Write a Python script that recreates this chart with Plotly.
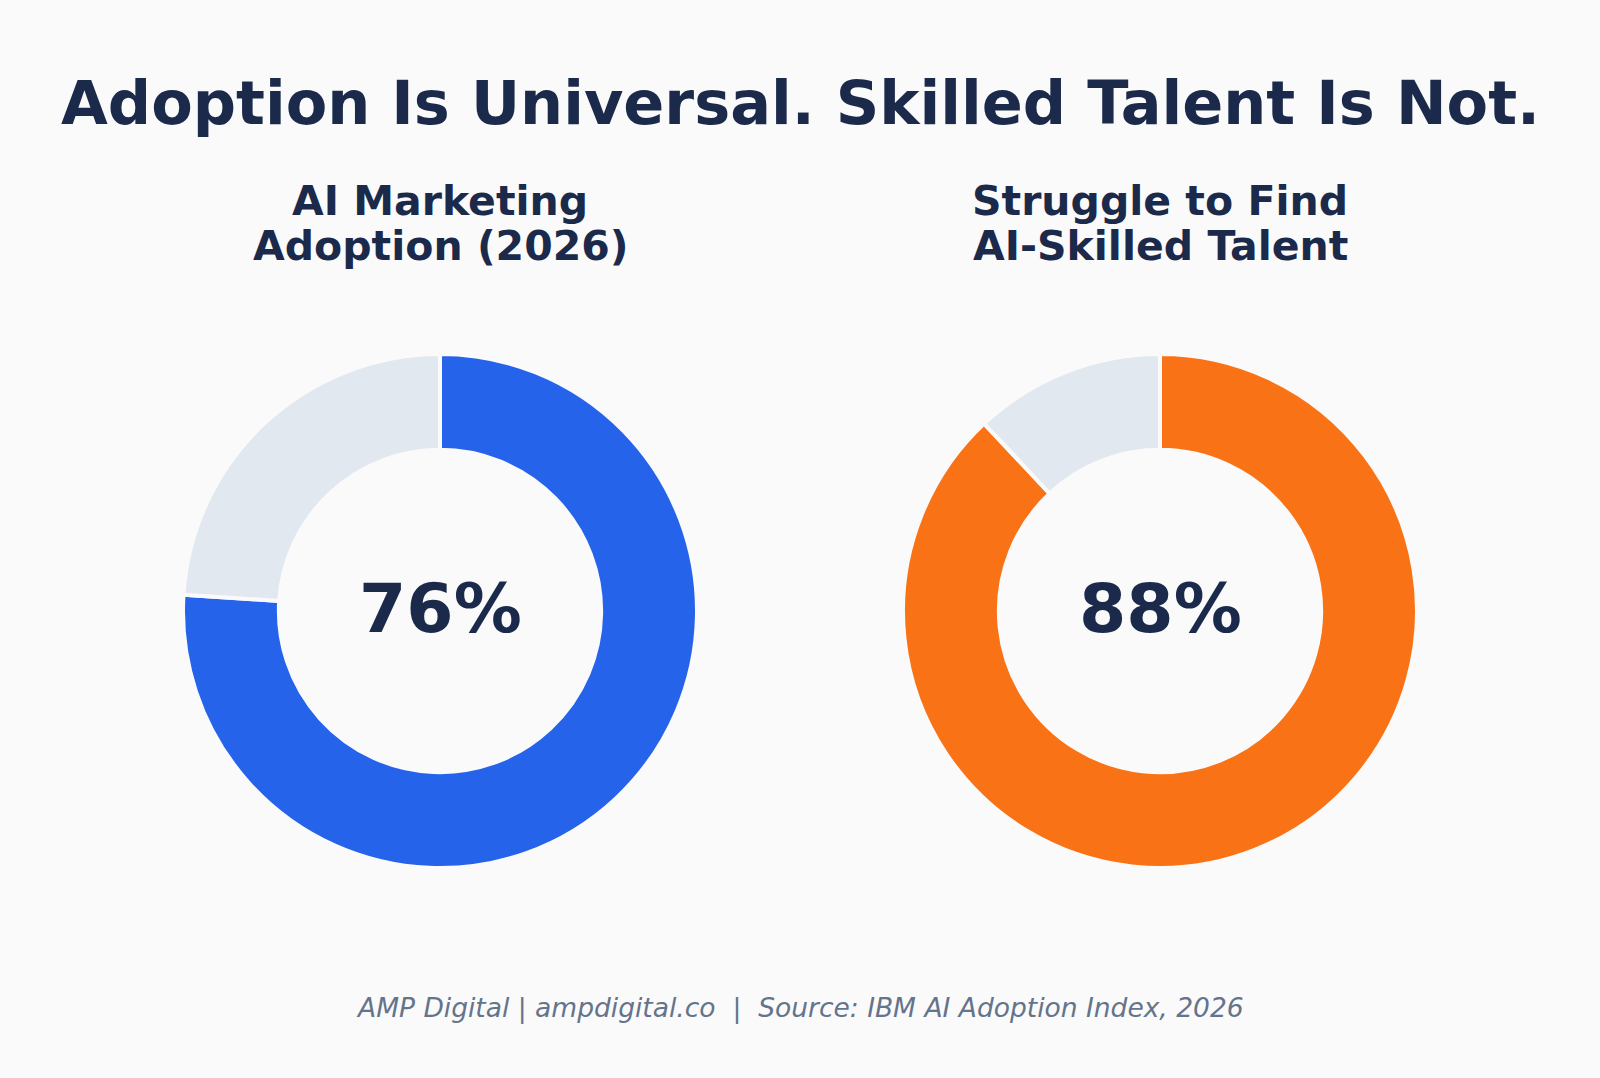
import plotly.graph_objects as go

W, H = 1600, 1078

# ---- data ----
panel_titles = ["AI Marketing", "Adoption (2026)"], ["Struggle to Find", "AI-Skilled Talent"]
share_values = [76, 88]
slice_labels = ["Yes", "Remainder"]
accent_colors = ["#2563EB", "#F97316"]
rest_color = "#E2E8F0"
main_title = "Adoption Is Universal. Skilled Talent Is Not."
footer_text = "AMP Digital | ampdigital.co  |  Source: IBM AI Adoption Index, 2026"

BG = "#FAFAFA"
NAVY = "#1B2A4A"
FONT = "DejaVu Sans"

# layout geometry (pixels)
centers_x = [440, 1160]
center_y = 611
radius = 257

def px_x(x):
    return x / W

def px_y(y):
    return 1 - y / H

fig = go.Figure()
for i, v in enumerate(share_values):
    cx = centers_x[i]
    fig.add_trace(go.Pie(
        values=[v, 100 - v],
        labels=slice_labels,
        sort=False,
        direction="clockwise",
        rotation=0,
        hole=0.627,
        textinfo="none",
        hoverinfo="label+value",
        showlegend=False,
        marker=dict(colors=[accent_colors[i], rest_color],
                    line=dict(color=BG, width=4)),
        domain=dict(x=[px_x(cx - radius), px_x(cx + radius)],
                    y=[px_y(center_y + radius), px_y(center_y - radius)]),
    ))

annotations = [
    dict(text=main_title, x=0.5, y=px_y(103), xref="paper", yref="paper",
         xanchor="center", yanchor="middle", showarrow=False,
         font=dict(family=FONT, size=60.5, color=NAVY, weight="bold")),
    dict(text=footer_text, x=0.5, y=px_y(1008), xref="paper", yref="paper",
         xanchor="center", yanchor="middle", showarrow=False,
         font=dict(family=FONT, size=26.5, color="#64748B", style="italic")),
]
for i, v in enumerate(share_values):
    cx = centers_x[i]
    for j, line in enumerate(panel_titles[i]):
        annotations.append(dict(
            text=line, x=px_x(cx), y=px_y(201 + 45 * j), xref="paper", yref="paper",
            xanchor="center", yanchor="middle", showarrow=False,
            font=dict(family=FONT, size=41, color=NAVY, weight="bold")))
    annotations.append(dict(
        text=f"{v}%", x=px_x(cx), y=px_y(608), xref="paper", yref="paper",
        xanchor="center", yanchor="middle", showarrow=False,
        font=dict(family=FONT, size=68, color=NAVY, weight="bold")))

fig.update_layout(
    width=W, height=H,
    margin=dict(l=0, r=0, t=0, b=0),
    paper_bgcolor=BG, plot_bgcolor=BG,
    annotations=annotations,
)

fig.write_html("out.html")
